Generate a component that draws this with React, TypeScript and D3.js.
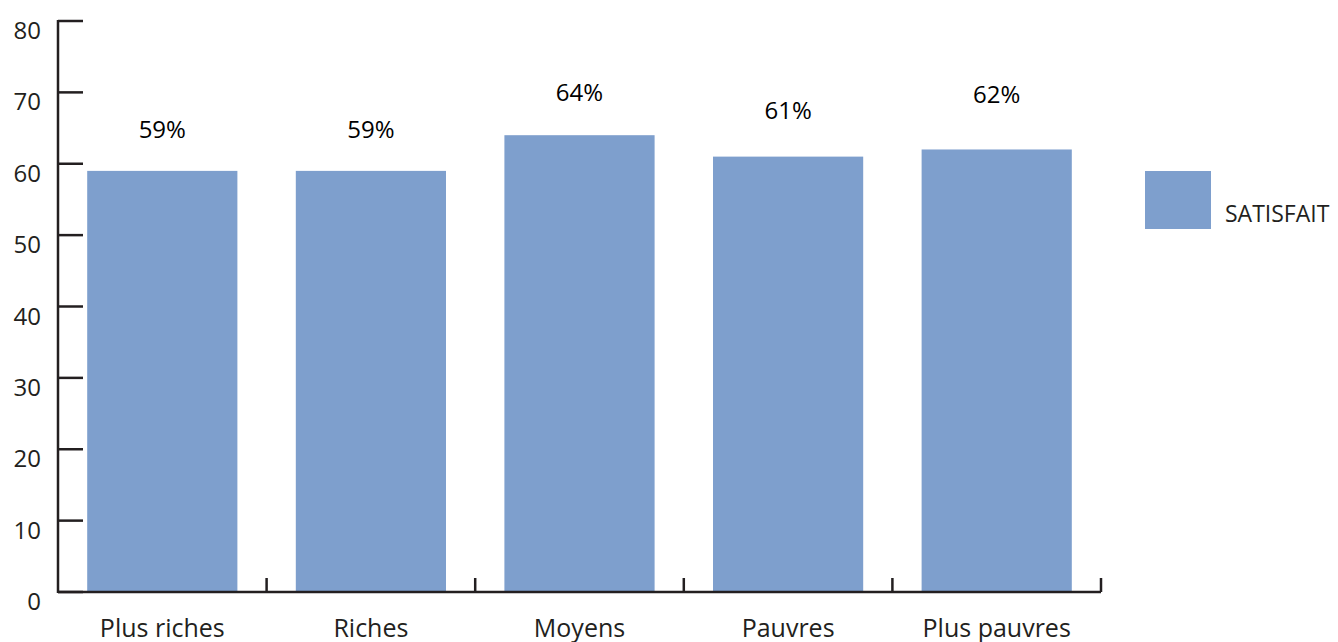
import React from "react";
import * as d3 from "d3";

const categories = ["Plus riches", "Riches", "Moyens", "Pauvres", "Plus pauvres"];
const satisfait = [59, 59, 64, 61, 62];
const yTicks = [0, 10, 20, 30, 40, 50, 60, 70, 80];
const seriesName = "SATISFAIT";

// gap between bar top and its value label, as in the original layout
const labelGap = [33, 33, 34, 38, 46];

const width = 1338;
const height = 642;
const margin = { top: 21, left: 58, bottom: 50, right: 237 };
const barColor = "#7e9fcd";
const axisColor = "#231f20";
const font = "'Open Sans', sans-serif";

const App = () => {
  const x = d3
    .scaleBand<string>()
    .domain(categories)
    .range([margin.left, width - margin.right])
    .paddingInner(0.28)
    .paddingOuter(0.14);

  const y = d3
    .scaleLinear()
    .domain([0, 80])
    .range([height - margin.bottom, margin.top]);

  const y0 = y(0);
  const bandEdges = categories.map((c) => (x(c) as number) + x.bandwidth() + (x.step() * x.paddingInner()) / 2);

  return (
    <svg
      width={width}
      height={height}
      style={{ position: "absolute", left: 0, top: 0, background: "#fff" }}
      fontFamily={font}
    >
      {/* bars */}
      {satisfait.map((v, i) => (
        <rect
          key={categories[i]}
          x={x(categories[i])}
          y={y(v)}
          width={x.bandwidth()}
          height={y0 - y(v)}
          fill={barColor}
        />
      ))}

      {/* y axis */}
      <line x1={margin.left} x2={margin.left} y1={y(80) - 1} y2={y0 + 1} stroke={axisColor} strokeWidth={2.5} />
      {yTicks.map((t) => (
        <g key={t}>
          <line x1={margin.left} x2={margin.left + 25} y1={y(t)} y2={y(t)} stroke={axisColor} strokeWidth={2.5} />
          <text x={41} y={y(t) + 18} textAnchor="end" fontSize={24} fill="#231f20">
            {t}
          </text>
        </g>
      ))}

      {/* x axis */}
      <line x1={margin.left} x2={width - margin.right} y1={y0} y2={y0} stroke={axisColor} strokeWidth={2.5} />
      {bandEdges.map((bx, i) => (
        <line key={i} x1={bx} x2={bx} y1={y0} y2={y0 - 14} stroke={axisColor} strokeWidth={2.5} />
      ))}
      {categories.map((c) => (
        <text
          key={c}
          x={(x(c) as number) + x.bandwidth() / 2}
          y={637}
          textAnchor="middle"
          fontSize={25}
          fill="#231f20"
        >
          {c}
        </text>
      ))}

      {/* value labels */}
      {satisfait.map((v, i) => (
        <text
          key={categories[i]}
          x={(x(categories[i]) as number) + x.bandwidth() / 2}
          y={y(v) - labelGap[i]}
          textAnchor="middle"
          fontSize={24}
          fill="#000"
        >
          {v}%
        </text>
      ))}

      {/* legend */}
      <rect x={1145} y={171} width={66} height={58} fill={barColor} />
      <text x={1225} y={222} fontSize={23} fill="#231f20">
        {seriesName}
      </text>
    </svg>
  );
};

export default App;
